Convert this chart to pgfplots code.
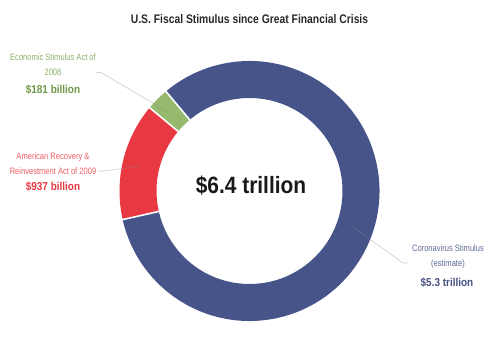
\documentclass[border=0pt]{standalone}
\usepackage{pgfplots}
\pgfplotsset{compat=1.18}
\usepackage{pgfplotstable}
\usepackage{fontspec}
\setmainfont{Liberation Sans}
\newfontfamily\titlefont[FakeStretch=0.83]{Liberation Sans}
\newfontfamily\lblfont[FakeStretch=0.815]{Liberation Sans}
\newfontfamily\valfont[FakeStretch=0.87]{Liberation Sans}
\newfontfamily\bigfont[FakeStretch=0.885]{Liberation Sans}
\usetikzlibrary{calc}
\definecolor{cblue}{RGB}{70,84,138}
\definecolor{cred}{RGB}{232,56,66}
\definecolor{cgreen}{RGB}{150,185,110}
\definecolor{tblue}{RGB}{95,105,150}
\definecolor{tred}{RGB}{236,95,100}
\definecolor{tgreen}{RGB}{140,175,105}
\definecolor{vblue}{RGB}{70,80,130}
\definecolor{vred}{RGB}{230,56,66}
\definecolor{vgreen}{RGB}{110,150,70}
\definecolor{ctitle}{RGB}{40,40,40}

\pgfplotstableread{
name value
green 181
red 937
blue 5300
}\data
\pgfplotstablegetelem{0}{value}\of\data \let\vg\pgfplotsretval
\pgfplotstablegetelem{1}{value}\of\data \let\vr\pgfplotsretval
\pgfplotstablegetelem{2}{value}\of\data \let\vb\pgfplotsretval
\pgfmathsetmacro\tot{\vg+\vr+\vb}
\pgfmathsetmacro\aA{130}
\pgfmathsetmacro\aB{\aA+360*(\vg/\tot)}
\pgfmathsetmacro\aC{\aB+360*(\vr/\tot)}
\pgfmathsetmacro\aD{\aC+360*(\vb/\tot)}
\def\Ro{130bp}
\def\Ri{93bp}
\newcommand\slice[3]{\fill[#3] ($(c)+(#1:\Ro)$) arc[start angle=#1,end angle=#2,radius=\Ro] -- ($(c)+(#2:\Ri)$) arc[start angle=#2,end angle=#1,radius=\Ri] -- cycle;}
\newcommand\sep[1]{\draw[white,line width=1.6bp] ($(c)+(#1:91bp)$) -- ($(c)+(#1:132bp)$);}

\begin{document}
\begin{tikzpicture}
\begin{axis}[width=499bp,height=355bp,scale only axis,
  xmin=0,xmax=499,ymin=0,ymax=355,y dir=reverse,hide axis,clip=false]
\path (axis cs:0,0) rectangle (axis cs:499,355);
\coordinate (c) at (axis cs:249.5,191);
\slice{\aA}{\aB}{cgreen}
\slice{\aB}{\aC}{cred}
\slice{\aC}{\aD}{cblue}
\sep{\aA}\sep{\aB}\sep{\aC}
\draw[black!45,opacity=0.45,line width=0.6bp] (axis cs:96,72.3) -- (axis cs:101,72.5) -- (axis cs:168,112);
\draw[black!45,opacity=0.45,line width=0.6bp] (axis cs:98,171) -- (axis cs:104,171) -- (axis cs:141,166);
\draw[black!45,opacity=0.45,line width=0.6bp] (axis cs:353,227) -- (axis cs:403,263) -- (axis cs:408,263);
% title
\node[anchor=base,text=ctitle,font=\titlefont\bfseries\fontsize{12.5}{14}\selectfont] at (axis cs:249.5,24) {U.S. Fiscal Stimulus since Great Financial Crisis};
% center
\node[anchor=base,text=black!90,font=\bigfont\bfseries\fontsize{23.7}{26}\selectfont] at (axis cs:251,193.3) {\$6.4 trillion};
% green
\node[anchor=base,text=tgreen,font=\lblfont\fontsize{9.3}{10}\selectfont] at (axis cs:53,60.7) {Economic Stimulus Act of};
\node[anchor=base,text=tgreen,font=\lblfont\fontsize{9.3}{10}\selectfont] at (axis cs:53,75) {2008};
\node[anchor=base,text=vgreen,font=\valfont\bfseries\fontsize{11.5}{13}\selectfont] at (axis cs:53,93.3) {\$181 billion};
% red
\node[anchor=base,text=tred,font=\lblfont\fontsize{9.3}{10}\selectfont] at (axis cs:53,159) {American Recovery \&};
\node[anchor=base,text=tred,font=\lblfont\fontsize{9.3}{10}\selectfont] at (axis cs:53,174) {Reinvestment Act of 2009};
\node[anchor=base,text=vred,font=\valfont\bfseries\fontsize{11.5}{13}\selectfont] at (axis cs:53,190.7) {\$937 billion};
% blue
\node[anchor=base,text=tblue,font=\lblfont\fontsize{9.3}{10}\selectfont] at (axis cs:448,251.7) {Coronavirus Stimulus};
\node[anchor=base,text=tblue,font=\lblfont\fontsize{9.3}{10}\selectfont] at (axis cs:448,266.5) {(estimate)};
\node[anchor=base,text=vblue,font=\valfont\bfseries\fontsize{11.5}{13}\selectfont] at (axis cs:447,286) {\$5.3 trillion};
\end{axis}
\end{tikzpicture}
\end{document}
